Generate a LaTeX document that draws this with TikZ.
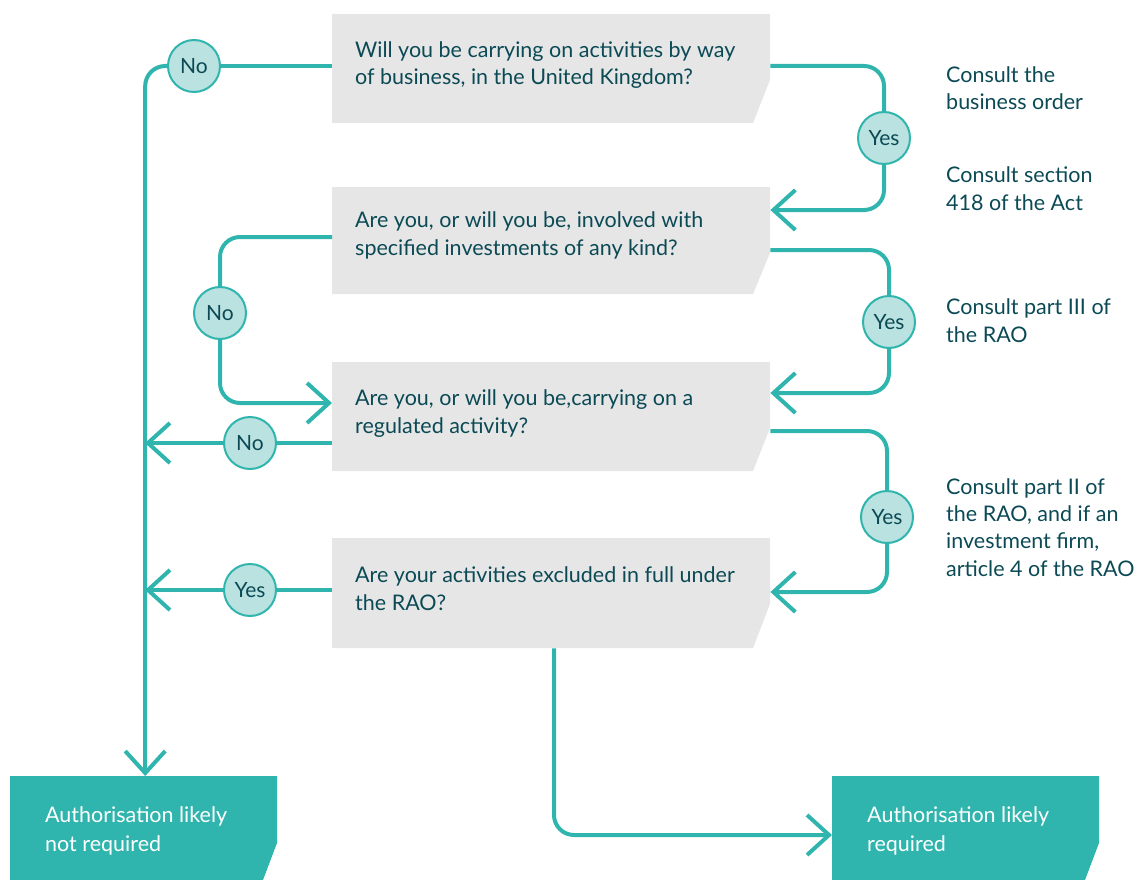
\documentclass[tikz,border=0pt]{standalone}
\usepackage{fontspec}
\setmainfont{Lato}
\usetikzlibrary{arrows.meta}
\definecolor{fteal}{HTML}{2FB5AD}
\definecolor{fgray}{HTML}{E6E6E6}
\definecolor{fcirc}{HTML}{BAE2E0}
\definecolor{ftext}{HTML}{0B4A55}
\begin{document}
\begin{tikzpicture}[x=1pt,y=-1pt,
  flow/.style={draw=fteal, line width=4pt, rounded corners=20pt},
  arr/.style={-{Straight Barb[length=22pt,width=40pt]}},
  tag/.style={circle, draw=fteal, line width=2pt, fill=fcirc, minimum size=52pt, inner sep=0pt, font=\fontsize{21}{24}\selectfont, text=ftext},
  qtext/.style={anchor=base west, align=left, inner sep=0pt, font=\fontsize{21.5}{27.5}\selectfont, text=ftext},
  rtext/.style={anchor=base west, align=left, inner sep=0pt, font=\fontsize{21.5}{27.3}\selectfont, text=ftext},
  wtext/.style={anchor=base west, align=left, inner sep=0pt, font=\fontsize{21.5}{29}\selectfont, text=white},
  boxnode/.style={anchor=north west, inner sep=0pt, minimum width=438pt, minimum height=109pt},
  endnode/.style={anchor=north west, inner sep=0pt, minimum width=267pt, minimum height=104pt}]
\useasboundingbox (0,0) rectangle (1140,880);

% question boxes
\fill[fgray] (332,14) -- (770,14) -- (770,80) -- (753,123) -- (332,123) -- cycle;
\node[boxnode] (q1) at (332,14) {};
\fill[fgray] (332,187) -- (770,187) -- (770,253) -- (753,294) -- (332,294) -- cycle;
\node[boxnode, minimum height=107pt] (q2) at (332,187) {};
\fill[fgray] (332,362) -- (770,362) -- (770,428) -- (753,471) -- (332,471) -- cycle;
\node[boxnode] (q3) at (332,362) {};
\fill[fgray] (332,538) -- (770,538) -- (770,604) -- (753,648) -- (332,648) -- cycle;
\node[boxnode, minimum height=110pt] (q4) at (332,538) {};

% end boxes
\fill[fteal] (10,776) -- (277,776) -- (277,843) -- (263,880) -- (10,880) -- cycle;
\node[endnode] (d1) at (10,776) {};
\fill[fteal] (832,776) -- (1099,776) -- (1099,843) -- (1085,880) -- (832,880) -- cycle;
\node[endnode] (d2) at (832,776) {};

% texts (anchored at baseline of last line)
\node[qtext] (t1) at (355,85) {Will you be carrying on activities by way\\of business, in the United Kingdom?};
\node[qtext] (t2) at (355,255) {Are you, or will you be, involved with\\specified investments of any kind?};
\node[qtext] (t3) at (355,433) {Are you, or will you be,carrying on a\\regulated activity?};
\node[qtext] (t4) at (355,610) {Are your activities excluded in full under\\the RAO?};
\node[wtext] (t5) at (45,851) {Authorisation likely\\not required};
\node[wtext] (t6) at (867,851) {Authorisation likely\\required};

\node[rtext] (n1) at (946,110) {Consult the\\business order};
\node[rtext] (n2) at (946,210) {Consult section\\418 of the Act};
\node[rtext] (n3) at (946,342) {Consult part III of\\the RAO};
\node[rtext] (n4) at (946,576) {Consult part II of\\the RAO, and if an\\investment firm,\\article 4 of the RAO};

% tags
\node[tag] (c1) at (194,66) {No};
\node[tag] (y1) at (884,138) {Yes};
\node[tag] (c2) at (220,313) {No};
\node[tag] (y2) at (889,322) {Yes};
\node[tag] (c3) at (250,443) {No};
\node[tag] (y3) at (887,517) {Yes};
\node[tag] (y4) at (250,590) {Yes};

% connectors
\draw[flow] ([yshift=-52pt]q1.north west) -- (c1);
\draw[flow, arr] (c1) -| ([xshift=1.5pt]d1.north);
\draw[flow] ([yshift=-52pt]q1.north east) -| (y1);
\draw[flow, arr] (y1) |- ([yshift=-23pt]q2.north east);

\draw[flow] ([yshift=-50pt]q2.north west) -| (c2);
\draw[flow, arr] (c2) |- ([yshift=-41pt]q3.north west);
\draw[flow] ([yshift=-63pt]q2.north east) -| (y2);
\draw[flow, arr] (y2) |- ([yshift=-31pt]q3.north east);

\draw[flow] ([yshift=-81pt]q3.north west) -- (c3);
\draw[flow, arr] (c3) -- ++(-105,0) coordinate (e3);
\draw[flow] ([yshift=-69pt]q3.north east) -| (y3);
\draw[flow, arr] (y3) |- ([yshift=-54pt]q4.north east);

\draw[flow] ([yshift=-52pt]q4.north west) -- (y4);
\draw[flow, arr] (y4) -- ++(-105,0) coordinate (e4);
\draw[flow, arr] ([xshift=222pt]q4.south west) |- ([yshift=-59pt]d2.north west);
\end{tikzpicture}
\end{document}
